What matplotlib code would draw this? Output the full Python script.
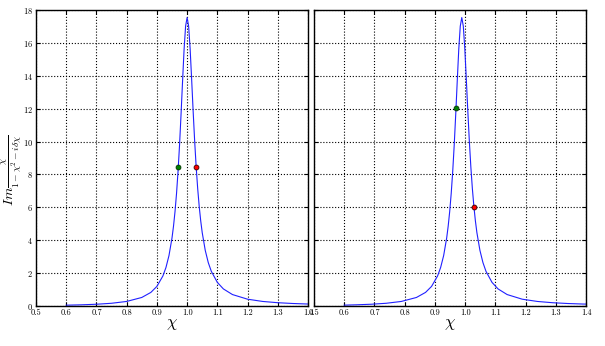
import matplotlib
matplotlib.use("Agg")
import matplotlib.pyplot as plt

# curve values
chi_l = [0.6, 0.65, 0.7, 0.75, 0.8, 0.85, 0.88, 0.9, 0.92, 0.93, 0.94, 0.95, 0.955,
         0.96, 0.965, 0.97, 0.975, 0.98, 0.985, 0.99, 0.995, 1.0, 1.005, 1.01, 1.015,
         1.02, 1.025, 1.03, 1.035, 1.04, 1.045, 1.05, 1.06, 1.07, 1.08, 1.1, 1.12,
         1.15, 1.2, 1.25, 1.3, 1.35, 1.4]
im_l = [0.050, 0.072, 0.107, 0.166, 0.277, 0.519, 0.826, 1.192, 1.831, 2.341, 3.067,
        4.136, 4.857, 5.747, 6.844, 8.188, 9.804, 11.68, 13.69, 15.61, 17.02, 17.54,
        17.02, 15.64, 13.78, 11.83, 10.02, 8.45, 7.139, 6.06, 5.180, 4.461, 3.384,
        2.640, 2.112, 1.436, 1.039, 0.696, 0.414, 0.277, 0.200, 0.152, 0.120]

chi_r = [0.6, 0.639, 0.689, 0.739, 0.789, 0.839, 0.869, 0.889, 0.909, 0.919, 0.929,
         0.939, 0.944, 0.949, 0.954, 0.959, 0.964, 0.969, 0.974, 0.979, 0.984, 0.989,
         0.994, 0.999, 1.004, 1.009, 1.014, 1.019, 1.024, 1.029, 1.034, 1.039, 1.049,
         1.059, 1.069, 1.089, 1.109, 1.139, 1.189, 1.239, 1.289, 1.339, 1.389, 1.4]
im_r = [0.052, 0.072, 0.107, 0.166, 0.277, 0.519, 0.826, 1.192, 1.831, 2.341, 3.067,
        4.136, 4.857, 5.747, 6.844, 8.188, 9.804, 11.68, 13.69, 15.61, 17.02, 17.54,
        17.02, 15.64, 13.78, 11.83, 10.02, 8.45, 7.139, 6.06, 5.180, 4.461, 3.384,
        2.640, 2.112, 1.436, 1.039, 0.696, 0.414, 0.277, 0.200, 0.152, 0.120, 0.116]

# marked points (green, red)
pts_l = [(0.971, 8.47), (1.030, 8.47)]
pts_r = [(0.970, 12.06), (1.029, 6.04)]

xticks = [0.5, 0.6, 0.7, 0.8, 0.9, 1.0, 1.1, 1.2, 1.3, 1.4]
yticks = [0, 2, 4, 6, 8, 10, 12, 14, 16, 18]

plt.rcParams['mathtext.fontset'] = 'cm'
plt.rcParams['font.family'] = 'serif'
plt.rcParams['font.serif'] = ['cmr10', 'DejaVu Serif']
plt.rcParams['axes.formatter.use_mathtext'] = True

fig = plt.figure(figsize=(6.05, 3.46), dpi=100)
ax1 = fig.add_axes([36 / 605, 40 / 346, 272 / 605, 296 / 346])
ax2 = fig.add_axes([314 / 605, 40 / 346, 272 / 605, 296 / 346])

for ax, x, y, pts in [(ax1, chi_l, im_l, pts_l), (ax2, chi_r, im_r, pts_r)]:
    ax.plot(x, y, color='#2020ff', lw=0.8)
    ax.plot(pts[0][0], pts[0][1], 'o', color='g', mec='#003300', ms=3.5, mew=0.6)
    ax.plot(pts[1][0], pts[1][1], 'o', color='r', mec='#330000', ms=3.5, mew=0.6)
    ax.set_xlim(0.5, 1.4)
    ax.set_ylim(0, 18)
    ax.set_xticks(xticks)
    ax.set_xticklabels(['%.1f' % t for t in xticks])
    ax.set_yticks(yticks)
    ax.grid(True, color='k', linestyle=':', lw=0.8)
    ax.tick_params(direction='in', top=True, right=True, labelsize=6, length=3, pad=2)
    ax.set_xlabel(r'$\chi$', fontsize=12, labelpad=0)
    for s in ax.spines.values():
        s.set_linewidth(1.0)

ax2.set_yticklabels([])
fig.text(12 / 605, 1 - 170 / 346, r'$Im\frac{\chi}{1-\chi^2-i\delta\chi}$',
         fontsize=10, rotation=90, ha='center', va='center')

fig.savefig('out.png', dpi=100)
